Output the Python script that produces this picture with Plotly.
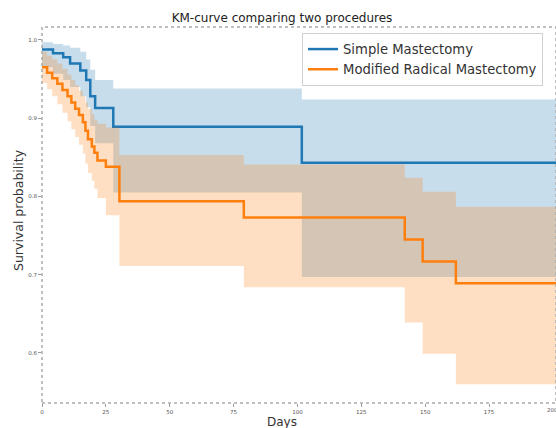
import plotly.graph_objects as go

# Simple Mastectomy (KM estimate + 95% CI)
sm_days  = [0, 4.3, 8.3, 11, 15, 17.3, 18.9, 20.8, 27.9, 101.7, 201.2]
sm_surv  = [0.988, 0.983, 0.978, 0.970, 0.961, 0.949, 0.928, 0.913, 0.889, 0.843, 0.843]
sm_upper = [0.997, 0.995, 0.993, 0.990, 0.985, 0.975, 0.962, 0.949, 0.938, 0.924, 0.924]
sm_lower = [0.965, 0.957, 0.949, 0.940, 0.928, 0.914, 0.890, 0.868, 0.805, 0.697, 0.697]

# Modified Radical Mastectomy (KM estimate + 95% CI)
mrm_days  = [0, 2, 4, 6, 8, 10, 11.5, 13, 14.5, 16, 17, 18, 19.5, 20.5, 21.7, 25, 30.3, 79, 142, 149, 162, 201.2]
mrm_surv  = [0.965, 0.958, 0.951, 0.944, 0.936, 0.928, 0.920, 0.912, 0.904, 0.895, 0.884, 0.873,
             0.864, 0.856, 0.846, 0.838, 0.794, 0.773, 0.745, 0.717, 0.689, 0.689]
mrm_upper = [0.985, 0.980, 0.975, 0.970, 0.963, 0.956, 0.949, 0.942, 0.935, 0.928, 0.920, 0.912,
             0.905, 0.898, 0.893, 0.888, 0.853, 0.841, 0.824, 0.806, 0.787, 0.787]
mrm_lower = [0.945, 0.937, 0.928, 0.918, 0.907, 0.896, 0.886, 0.876, 0.866, 0.855, 0.842, 0.830,
             0.820, 0.810, 0.798, 0.776, 0.711, 0.684, 0.639, 0.599, 0.560, 0.560]

x_ticks = [0, 25, 50, 75, 100, 125, 150, 175, 200]
y_ticks = [0.6, 0.7, 0.8, 0.9, 1.0]

BLUE = "#1f77b4"
ORANGE = "#ff7f0e"

fig = go.Figure()

def add_group(days, surv, lo, hi, color, fillcolor, name):
    fig.add_trace(go.Scatter(x=days, y=lo, mode="lines", line=dict(width=0, shape="hv"),
                             showlegend=False, hoverinfo="skip"))
    fig.add_trace(go.Scatter(x=days, y=hi, mode="lines", line=dict(width=0, shape="hv"),
                             fill="tonexty", fillcolor=fillcolor, showlegend=False, hoverinfo="skip"))
    fig.add_trace(go.Scatter(x=days, y=surv, mode="lines", name=name,
                             line=dict(color=color, width=2.5, shape="hv")))

add_group(sm_days, sm_surv, sm_lower, sm_upper, BLUE, "rgba(31,119,180,0.25)", "Simple Mastectomy")
add_group(mrm_days, mrm_surv, mrm_lower, mrm_upper, ORANGE, "rgba(255,127,14,0.25)", "Modified Radical Mastectomy")

# the last tick label sits at the right edge and is drawn separately so it can be shown cut off
shown_ticks = x_ticks[:-1]
annotations = [
    dict(text=str(x_ticks[-1]), xref="x", yref="paper", x=x_ticks[-1], y=-(410 - 403) / 376,
         xanchor="center", yanchor="middle", showarrow=False, font=dict(size=5.5, color="#555")),
    dict(text="Days", xref="paper", yref="paper", x=(282 - 42) / 514, y=-(422 - 403) / 376,
         xanchor="center", yanchor="middle", showarrow=False, font=dict(size=12, color="#333")),
    dict(text="Survival probability", xref="paper", yref="paper", x=-(42 - 18) / 514,
         y=1 - (210 - 27) / 376, xanchor="center", yanchor="middle", textangle=-90,
         showarrow=False, font=dict(size=12.5, color="#333")),
]

fig.update_layout(
    width=556, height=428,
    margin=dict(l=42, r=0, t=27, b=25, autoexpand=False),
    paper_bgcolor="white", plot_bgcolor="white",
    font=dict(family="DejaVu Sans", color="#333"),
    title=dict(text="KM-curve comparing two procedures", x=282 / 556, xanchor="center", xref="container",
               y=1 - 17.5 / 428, yanchor="middle", yref="container", font=dict(size=12, color="#222")),
    legend=dict(x=(302 - 42) / 514, y=1 - (33 - 27) / 376, xanchor="left", yanchor="top",
                traceorder="normal",
                bgcolor="rgba(255,255,255,0.85)", bordercolor="#d0d0d0", borderwidth=1,
                font=dict(size=13.2, color="#333"), tracegroupgap=0, itemwidth=30),
    xaxis=dict(range=[0, 201.2], tickvals=shown_ticks, ticktext=[str(v) for v in shown_ticks],
               tickfont=dict(size=5.5, color="#555"), ticks="outside", ticklen=3, tickcolor="#999",
               showgrid=False, zeroline=False, showline=False, automargin=False),
    yaxis=dict(range=[0.536, 1.0166], tickvals=y_ticks, ticktext=["0.6", "0.7", "0.8", "0.9", "1.0"],
               tickfont=dict(size=5.5, color="#555"), ticks="outside", ticklen=3, tickcolor="#999",
               showgrid=False, zeroline=False, showline=False, automargin=False),
    annotations=annotations,
)

fig.add_shape(type="rect", xref="paper", yref="paper", x0=0, y0=0, x1=1, y1=1,
              line=dict(color="#aaaaaa", width=1.5, dash="dot"), layer="above")

fig.write_html("out.html", config={"displayModeBar": False},
               post_script="document.body.style.margin='0';document.body.style.overflow='hidden';")
